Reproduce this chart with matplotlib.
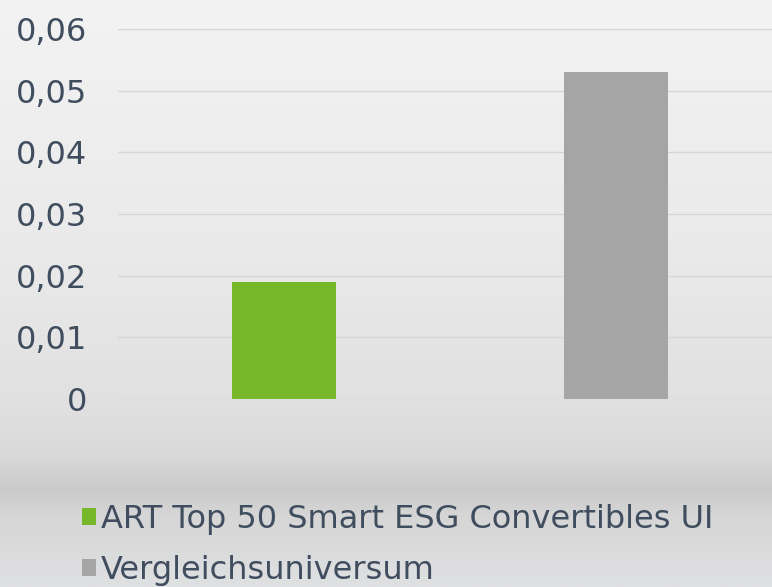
import matplotlib
matplotlib.use("Agg")
import matplotlib.pyplot as plt
import numpy as np
from matplotlib.colors import LinearSegmentedColormap
from matplotlib.patches import Patch

categories = ["ART Top 50 Smart ESG Convertibles UI", "Vergleichsuniversum"]
values = [0.019, 0.053]
colors = ["#76b82a", "#a5a5a5"]
yticks = [0, 0.01, 0.02, 0.03, 0.04, 0.05, 0.06]
ytick_labels = ["0", "0,01", "0,02", "0,03", "0,04", "0,05", "0,06"]

W, H = 772, 587
fig = plt.figure(figsize=(W / 100, H / 100), dpi=100)

# background gradient
bg = fig.add_axes([0, 0, 1, 1], zorder=-10)
stops = [(0.0, "#f3f3f3"), (0.45, "#e9e9e9"), (0.70, "#e0e0e0"),
         (0.78, "#d8d8d8"), (0.835, "#cbcbcb"), (0.88, "#d6d6d6"), (1.0, "#dfe0e2")]
cmap = LinearSegmentedColormap.from_list("bg", stops)
grad = np.linspace(0, 1, 256).reshape(-1, 1)
bg.imshow(grad, aspect="auto", cmap=cmap, extent=[0, 1, 1, 0])
bg.set_xlim(0, 1)
bg.set_ylim(1, 0)
bg.axis("off")

left, right, top, bottom = 118, 782, 29, 399
ax = fig.add_axes([left / W, (H - bottom) / H, (right - left) / W, (bottom - top) / H])
ax.patch.set_alpha(0)

x = np.arange(len(categories))
ax.bar(x, values, width=0.313, color=colors, zorder=3)
ax.set_xlim(-0.5, 1.5)
ax.set_ylim(0, 0.06)
ax.set_yticks(yticks)
ax.set_yticklabels(ytick_labels)
ax.set_xticks([])
ax.grid(axis="y", color="#d6d6d6", linewidth=1.0, zorder=0)
for s in ax.spines.values():
    s.set_visible(False)
ax.tick_params(axis="y", length=0, pad=22, labelsize=23, labelcolor="#3f4d5e")
for lbl in ax.get_yticklabels():
    lbl.set_fontfamily("DejaVu Sans")

handles = [Patch(facecolor=c, edgecolor="none") for c in colors]
leg = fig.legend(handles, categories, loc="upper left",
                 bbox_to_anchor=(69 / W, 1 - 491 / H), frameon=False,
                 prop={"family": "DejaVu Sans", "size": 23},
                 labelcolor="#3f4d5e", handlelength=0.45, handleheight=0.45,
                 handletextpad=0.15, labelspacing=0.64, borderaxespad=0)

fig.savefig("out.png", dpi=100)
